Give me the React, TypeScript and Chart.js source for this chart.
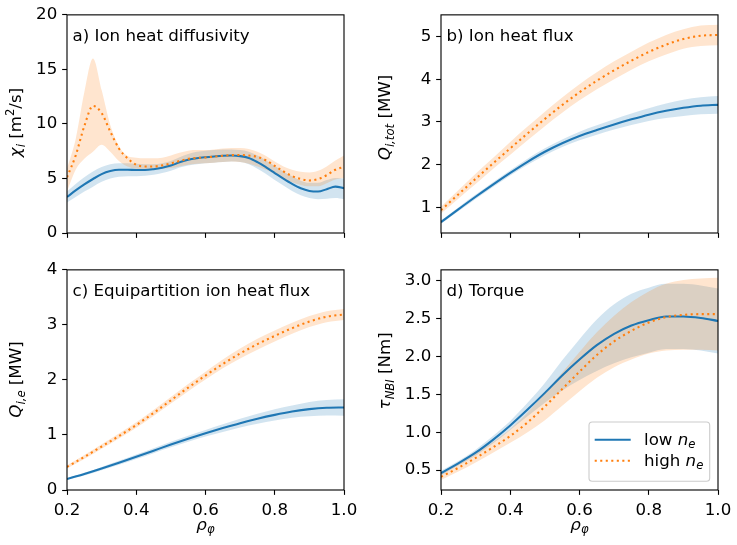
import React, { useEffect, useRef } from "react";
import { Chart, registerables } from "chart.js";

Chart.register(...registerables);

// ---- style constants (matplotlib-like defaults) ----
const C0 = "#1f77b4";
const C1 = "#ff7f0e";
const C0_BAND = "rgba(31,119,180,0.2)";
const C1_BAND = "rgba(255,127,14,0.2)";
const FONT = '"DejaVu Sans", sans-serif';
const FS = 16.67;
const LW = 2.08;
const DOT = [2.08, 3.44];
const TICK_LEN = 4.86;
const TICK_W = 1.11;

// ---- radial grids ----
const RHO_FINE = [
  0.2, 0.225, 0.25, 0.275, 0.3, 0.325, 0.35, 0.375, 0.4, 0.425, 0.45, 0.475, 0.5, 0.525, 0.55, 0.575, 0.6,
  0.625, 0.65, 0.675, 0.7, 0.725, 0.75, 0.775, 0.8, 0.825, 0.85, 0.875, 0.9, 0.925, 0.95, 0.975, 1.0,
];
const RHO = [0.2, 0.25, 0.3, 0.35, 0.4, 0.45, 0.5, 0.55, 0.6, 0.65, 0.7, 0.75, 0.8, 0.85, 0.9, 0.95, 1.0];

// ---- a) ion heat diffusivity [m^2/s] ----
const CHI_LOW = [
  3.3, 3.9, 4.45, 4.95, 5.4, 5.68, 5.8, 5.8, 5.78, 5.78, 5.85, 5.98, 6.18, 6.48, 6.72, 6.86, 6.95,
  7.02, 7.08, 7.1, 7.05, 6.88, 6.5, 6.02, 5.5, 4.98, 4.5, 4.1, 3.86, 3.8, 4.02, 4.25, 4.1,
];
const CHI_LOW_LO = [
  2.8, 3.3, 3.8, 4.25, 4.7, 5.0, 5.15, 5.2, 5.2, 5.25, 5.35, 5.5, 5.7, 6.0, 6.2, 6.3, 6.4,
  6.45, 6.5, 6.55, 6.5, 6.3, 5.9, 5.4, 4.85, 4.35, 3.85, 3.45, 3.2, 3.1, 3.15, 3.2, 3.1,
];
const CHI_LOW_HI = [
  3.8, 4.5, 5.1, 5.65, 6.05, 6.3, 6.4, 6.4, 6.35, 6.3, 6.3, 6.4, 6.6, 6.95, 7.25, 7.45, 7.55,
  7.6, 7.65, 7.65, 7.6, 7.45, 7.1, 6.65, 6.15, 5.65, 5.2, 4.8, 4.6, 4.6, 4.85, 5.05, 5.0,
];
const CHI_HIGH = [
  5.1, 7.1, 9.8, 11.65, 11.0, 9.3, 7.75, 6.85, 6.25, 6.1, 6.1, 6.2, 6.38, 6.6, 6.8, 6.88, 6.93,
  7.0, 7.08, 7.14, 7.15, 7.1, 6.98, 6.65, 6.15, 5.65, 5.22, 4.95, 4.82, 4.95, 5.3, 5.8, 6.05,
];
const CHI_HIGH_LO = [
  3.8, 5.8, 6.8, 7.45, 8.1, 7.45, 6.6, 6.1, 5.9, 5.85, 5.85, 5.9, 5.95, 6.1, 6.25, 6.35, 6.4,
  6.45, 6.5, 6.55, 6.5, 6.35, 6.1, 5.8, 5.4, 5.0, 4.65, 4.4, 4.28, 4.28, 4.55, 4.9, 5.05,
];
const CHI_HIGH_HI = [
  5.9, 8.6, 12.9, 16.0, 13.1, 9.9, 7.95, 7.05, 6.9, 6.85, 6.85, 6.9, 7.1, 7.35, 7.55, 7.6, 7.6,
  7.65, 7.75, 7.8, 7.8, 7.7, 7.45, 7.05, 6.55, 6.1, 5.8, 5.62, 5.55, 5.7, 6.1, 6.65, 7.1,
];

// ---- b) total ion heat flux [MW] ----
const QTOT_LOW = [0.65, 0.95, 1.245, 1.53, 1.805, 2.065, 2.3, 2.5, 2.67, 2.81, 2.94, 3.06, 3.17, 3.26, 3.33, 3.38, 3.4];
const QTOT_LOW_ERR = [0.04, 0.045, 0.05, 0.055, 0.06, 0.07, 0.08, 0.09, 0.1, 0.11, 0.12, 0.135, 0.15, 0.17, 0.19, 0.2, 0.21];
const QTOT_HIGH = [0.93, 1.3, 1.665, 2.025, 2.38, 2.73, 3.07, 3.395, 3.695, 3.965, 4.21, 4.435, 4.64, 4.81, 4.945, 5.02, 5.04];
const QTOT_HIGH_ERR = [0.08, 0.1, 0.12, 0.13, 0.15, 0.16, 0.17, 0.18, 0.19, 0.2, 0.21, 0.21, 0.22, 0.23, 0.23, 0.24, 0.24];

// ---- c) equipartition ion heat flux [MW] ----
const QIE_LOW = [0.2, 0.29, 0.39, 0.495, 0.605, 0.715, 0.825, 0.93, 1.03, 1.125, 1.215, 1.295, 1.365, 1.425, 1.47, 1.495, 1.5];
const QIE_LOW_ERR = [0.02, 0.025, 0.03, 0.035, 0.04, 0.045, 0.05, 0.055, 0.06, 0.07, 0.08, 0.09, 0.1, 0.11, 0.13, 0.14, 0.15];
const QIE_HIGH = [0.42, 0.6, 0.79, 0.98, 1.18, 1.4, 1.63, 1.86, 2.08, 2.29, 2.48, 2.65, 2.8, 2.94, 3.06, 3.15, 3.19];
const QIE_HIGH_ERR = [0.03, 0.035, 0.04, 0.045, 0.05, 0.055, 0.06, 0.065, 0.07, 0.08, 0.09, 0.1, 0.1, 0.1, 0.1, 0.1, 0.1];

// ---- d) NBI torque [Nm] ----
const TORQUE_LOW = [0.46, 0.59, 0.73, 0.9, 1.09, 1.3, 1.52, 1.75, 1.96, 2.15, 2.3, 2.41, 2.48, 2.53, 2.53, 2.51, 2.47];
const TORQUE_LOW_ERR = [0.03, 0.03, 0.04, 0.05, 0.06, 0.09, 0.13, 0.2, 0.27, 0.34, 0.39, 0.42, 0.43, 0.43, 0.43, 0.43, 0.43];
const TORQUE_HIGH = [0.41, 0.53, 0.66, 0.8, 0.95, 1.13, 1.34, 1.57, 1.8, 2.02, 2.2, 2.34, 2.45, 2.52, 2.55, 2.56, 2.56];
const TORQUE_HIGH_ERR = [0.04, 0.05, 0.06, 0.07, 0.09, 0.13, 0.18, 0.22, 0.26, 0.3, 0.34, 0.38, 0.41, 0.44, 0.46, 0.47, 0.48];

// ---- tick values ----
const RHO_TICKS = [0.2, 0.4, 0.6, 0.8, 1.0];
const CHI_TICKS = [0, 5, 10, 15, 20];
const QTOT_TICKS = [1, 2, 3, 4, 5];
const QIE_TICKS = [0, 1, 2, 3, 4];
const TORQUE_TICKS = [0.5, 1.0, 1.5, 2.0, 2.5, 3.0];

const LEGEND_LOW = "low ";
const LEGEND_HIGH = "high ";

// ---- rich text (italic / sub / superscript) ----
type Seg = { t: string; it?: boolean; sub?: boolean; sup?: boolean };

function segFont(s: Seg) {
  const size = s.sub || s.sup ? FS * 0.7 : FS;
  return `${s.it ? "italic " : ""}${size}px ${FONT}`;
}

function drawRich(
  ctx: CanvasRenderingContext2D,
  segs: Seg[],
  x: number,
  y: number,
  rotated: boolean,
  align: "left" | "center"
) {
  ctx.save();
  ctx.translate(x, y);
  if (rotated) ctx.rotate(-Math.PI / 2);
  ctx.textBaseline = "alphabetic";
  ctx.textAlign = "left";
  ctx.fillStyle = "#000";
  const widths = segs.map((s) => {
    ctx.font = segFont(s);
    return ctx.measureText(s.t).width;
  });
  const total = widths.reduce((a, b) => a + b, 0);
  let cx = align === "center" ? -total / 2 : 0;
  segs.forEach((s, i) => {
    ctx.font = segFont(s);
    const dy = s.sub ? FS * 0.22 : s.sup ? -FS * 0.42 : 0;
    ctx.fillText(s.t, cx, dy);
    cx += widths[i];
  });
  ctx.restore();
}

const RHO_LABEL: Seg[] = [{ t: "ρ", it: true }, { t: "φ", it: true, sub: true }];

interface PanelSpec {
  key: string;
  box: [number, number, number, number]; // canvas left, top, width, height
  area: [number, number, number, number]; // plot area left, top, right, bottom
  x: number[];
  low: number[];
  lowLo: number[];
  lowHi: number[];
  high: number[];
  highLo: number[];
  highHi: number[];
  yMin: number;
  yMax: number;
  yTicks: number[];
  yDigits: number;
  title: string;
  yLabel: Seg[];
  yLabelPos: [number, number];
  xLabels: boolean;
  legend: boolean;
}

const minus = (m: number[], e: number[]) => m.map((v, i) => v - e[i]);
const plus = (m: number[], e: number[]) => m.map((v, i) => v + e[i]);

const PANELS: PanelSpec[] = [
  {
    key: "a",
    box: [0, 0, 368, 255],
    area: [67, 13, 344, 233],
    x: RHO_FINE,
    low: CHI_LOW,
    lowLo: CHI_LOW_LO,
    lowHi: CHI_LOW_HI,
    high: CHI_HIGH,
    highLo: CHI_HIGH_LO,
    highHi: CHI_HIGH_HI,
    yMin: 0,
    yMax: 20,
    yTicks: CHI_TICKS,
    yDigits: 0,
    title: "a) Ion heat diffusivity",
    yLabel: [
      { t: "χ", it: true },
      { t: "i", it: true, sub: true },
      { t: " [m" },
      { t: "2", sup: true },
      { t: "/s]" },
    ],
    yLabelPos: [21, 122.5],
    xLabels: false,
    legend: false,
  },
  {
    key: "b",
    box: [368, 0, 369, 255],
    area: [441, 13, 718, 233],
    x: RHO,
    low: QTOT_LOW,
    lowLo: minus(QTOT_LOW, QTOT_LOW_ERR),
    lowHi: plus(QTOT_LOW, QTOT_LOW_ERR),
    high: QTOT_HIGH,
    highLo: minus(QTOT_HIGH, QTOT_HIGH_ERR),
    highHi: plus(QTOT_HIGH, QTOT_HIGH_ERR),
    yMin: 0.395,
    yMax: 5.51,
    yTicks: QTOT_TICKS,
    yDigits: 0,
    title: "b) Ion heat flux",
    yLabel: [{ t: "Q", it: true }, { t: "i,tot", it: true, sub: true }, { t: " [MW]" }],
    yLabelPos: [390, 117.5],
    xLabels: false,
    legend: false,
  },
  {
    key: "c",
    box: [0, 255, 368, 290],
    area: [67, 269, 344, 490],
    x: RHO,
    low: QIE_LOW,
    lowLo: minus(QIE_LOW, QIE_LOW_ERR),
    lowHi: plus(QIE_LOW, QIE_LOW_ERR),
    high: QIE_HIGH,
    highLo: minus(QIE_HIGH, QIE_HIGH_ERR),
    highHi: plus(QIE_HIGH, QIE_HIGH_ERR),
    yMin: 0,
    yMax: 4,
    yTicks: QIE_TICKS,
    yDigits: 0,
    title: "c) Equipartition ion heat flux",
    yLabel: [{ t: "Q", it: true }, { t: "i,e", it: true, sub: true }, { t: " [MW]" }],
    yLabelPos: [21, 379.5],
    xLabels: true,
    legend: false,
  },
  {
    key: "d",
    box: [368, 255, 369, 290],
    area: [441, 269, 718, 490],
    x: RHO,
    low: TORQUE_LOW,
    lowLo: minus(TORQUE_LOW, TORQUE_LOW_ERR),
    lowHi: plus(TORQUE_LOW, TORQUE_LOW_ERR),
    high: TORQUE_HIGH,
    highLo: minus(TORQUE_HIGH, TORQUE_HIGH_ERR),
    highHi: plus(TORQUE_HIGH, TORQUE_HIGH_ERR),
    yMin: 0.237,
    yMax: 3.145,
    yTicks: TORQUE_TICKS,
    yDigits: 1,
    title: "d) Torque",
    yLabel: [{ t: "τ", it: true }, { t: "NBI", it: true, sub: true }, { t: " [Nm]" }],
    yLabelPos: [390, 370.8],
    xLabels: true,
    legend: true,
  },
];

function decorations(spec: PanelSpec) {
  const [bx, by] = spec.box;
  return {
    id: "decor_" + spec.key,
    afterDatasetsDraw(chart: any) {
      const ctx: CanvasRenderingContext2D = chart.ctx;
      const a = chart.chartArea;
      ctx.save();
      // axes frame
      ctx.strokeStyle = "#000";
      ctx.lineWidth = TICK_W;
      ctx.strokeRect(a.left, a.top, a.right - a.left, a.bottom - a.top);

      // panel title
      ctx.fillStyle = "#000";
      ctx.font = `${FS}px ${FONT}`;
      ctx.textAlign = "left";
      ctx.textBaseline = "alphabetic";
      ctx.fillText(spec.title, a.left + 5.5, a.top + 26.3);

      // axis labels
      drawRich(ctx, spec.yLabel, spec.yLabelPos[0] - bx, spec.yLabelPos[1] - by, true, "center");
      if (spec.xLabels) {
        drawRich(ctx, RHO_LABEL, (a.left + a.right) / 2, 529.5 - by, false, "center");
      }

      // legend
      if (spec.legend) {
        const w = 120.7;
        const h = 59.3;
        const lx = a.right - 8.3 - w;
        const ly = a.bottom - 8.7 - h;
        const r = 3.3;
        ctx.beginPath();
        ctx.moveTo(lx + r, ly);
        ctx.lineTo(lx + w - r, ly);
        ctx.arcTo(lx + w, ly, lx + w, ly + r, r);
        ctx.lineTo(lx + w, ly + h - r);
        ctx.arcTo(lx + w, ly + h, lx + w - r, ly + h, r);
        ctx.lineTo(lx + r, ly + h);
        ctx.arcTo(lx, ly + h, lx, ly + h - r, r);
        ctx.lineTo(lx, ly + r);
        ctx.arcTo(lx, ly, lx + r, ly, r);
        ctx.closePath();
        ctx.fillStyle = "rgba(255,255,255,0.8)";
        ctx.fill();
        ctx.strokeStyle = "#cccccc";
        ctx.lineWidth = 1.1;
        ctx.stroke();

        const rows = [
          { color: C0, dash: [] as number[], label: LEGEND_LOW, cy: ly + 17.7 },
          { color: C1, dash: DOT, label: LEGEND_HIGH, cy: ly + 38.7 },
        ];
        rows.forEach((row) => {
          ctx.beginPath();
          ctx.strokeStyle = row.color;
          ctx.lineWidth = LW;
          ctx.setLineDash(row.dash);
          ctx.moveTo(lx + 5.7, row.cy);
          ctx.lineTo(lx + 41.7, row.cy);
          ctx.stroke();
          ctx.setLineDash([]);
          drawRich(
            ctx,
            [{ t: row.label }, { t: "n", it: true }, { t: "e", it: true, sub: true }],
            lx + 55,
            row.cy + 5,
            false,
            "left"
          );
        });
      }
      ctx.restore();
    },
  };
}

function buildConfig(spec: PanelSpec): any {
  const [bx, by, bw, bh] = spec.box;
  const [al, at, ar, ab] = spec.area;
  const pts = (ys: number[]) => spec.x.map((x, i) => ({ x, y: ys[i] }));
  const line = (ys: number[], color: string, dash: number[]) => ({
    data: pts(ys),
    borderColor: color,
    borderWidth: LW,
    borderDash: dash,
    pointRadius: 0,
    fill: false,
    cubicInterpolationMode: "monotone",
  });
  const edge = (ys: number[], fill: any, bg: string) => ({
    data: pts(ys),
    borderColor: "rgba(0,0,0,0)",
    borderWidth: 0,
    pointRadius: 0,
    fill,
    backgroundColor: bg,
    cubicInterpolationMode: "monotone",
  });
  const tickFont = { family: FONT, size: FS };
  const grid = {
    display: true,
    drawOnChartArea: false,
    drawTicks: true,
    tickLength: TICK_LEN,
    tickWidth: TICK_W,
    tickColor: "#000",
    color: "#000",
  };
  return {
    type: "line",
    data: {
      datasets: [
        line(spec.high, C1, DOT),
        line(spec.low, C0, []),
        edge(spec.highHi, "+1", C1_BAND),
        edge(spec.highLo, false, C1_BAND),
        edge(spec.lowHi, "+1", C0_BAND),
        edge(spec.lowLo, false, C0_BAND),
      ],
    },
    options: {
      responsive: false,
      animation: false,
      devicePixelRatio: 1,
      events: [],
      layout: { padding: { left: 0, top: at - by, right: bx + bw - ar, bottom: 0 } },
      plugins: {
        legend: { display: false },
        tooltip: { enabled: false },
        filler: { drawTime: "beforeDatasetsDraw" },
      },
      scales: {
        x: {
          type: "linear",
          min: 0.2,
          max: 1.0,
          grid,
          border: { display: false },
          afterBuildTicks: (s: any) => {
            s.ticks = RHO_TICKS.map((v) => ({ value: v }));
          },
          afterFit: (s: any) => {
            s.height = by + bh - ab;
          },
          ticks: {
            display: spec.xLabels,
            autoSkip: false,
            maxRotation: 0,
            padding: 5.5,
            color: "#000",
            font: tickFont,
            callback: (v: any) => Number(v).toFixed(1),
          },
        },
        y: {
          type: "linear",
          min: spec.yMin,
          max: spec.yMax,
          grid,
          border: { display: false },
          afterBuildTicks: (s: any) => {
            s.ticks = spec.yTicks.map((v) => ({ value: v }));
          },
          afterFit: (s: any) => {
            s.width = al - bx;
          },
          ticks: {
            autoSkip: false,
            padding: 4.86,
            color: "#000",
            font: tickFont,
            callback: (v: any) => Number(v).toFixed(spec.yDigits),
          },
        },
      },
    },
    plugins: [decorations(spec)],
  };
}

function Panel({ spec }: { spec: PanelSpec }) {
  const ref = useRef<HTMLCanvasElement>(null);
  useEffect(() => {
    const chart = new Chart(ref.current as HTMLCanvasElement, buildConfig(spec));
    return () => chart.destroy();
  }, [spec]);
  const [bx, by, bw, bh] = spec.box;
  return (
    <canvas
      ref={ref}
      width={bw}
      height={bh}
      style={{ position: "absolute", left: bx, top: by, width: bw, height: bh }}
    />
  );
}

export default function App() {
  return (
    <div style={{ position: "fixed", left: 0, top: 0, width: 737, height: 545, background: "#fff" }}>
      {PANELS.map((p) => (
        <Panel key={p.key} spec={p} />
      ))}
    </div>
  );
}
